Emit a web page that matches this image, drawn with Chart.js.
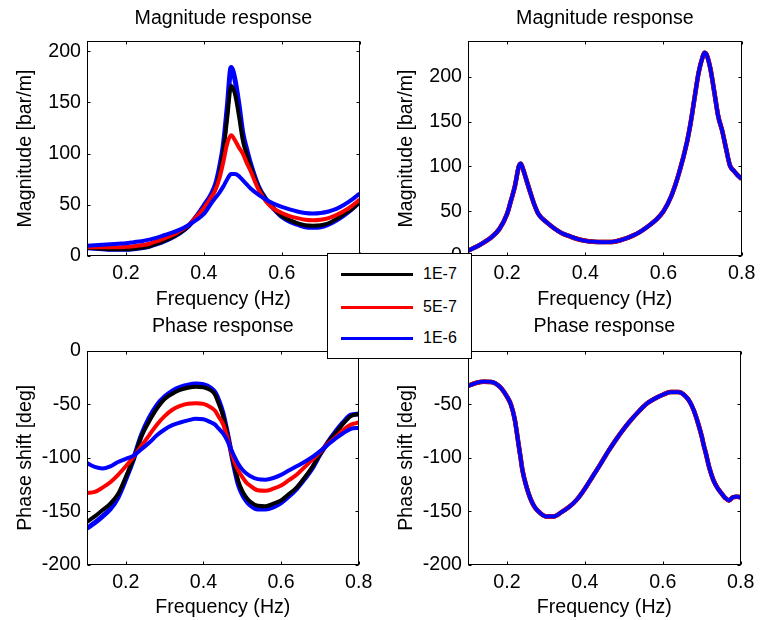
<!DOCTYPE html>
<html>
<head>
<meta charset="utf-8">
<script src="https://cdn.jsdelivr.net/npm/chart.js@4.4.1/dist/chart.umd.min.js"></script>
<style>
  html, body { margin: 0; padding: 0; background: #fff; }
  #page { position: relative; width: 763px; height: 620px; overflow: hidden; }
  .panel { position: absolute; }
  #legend {
    position: absolute; left: 327px; top: 253px; width: 145px; height: 106px;
    box-sizing: border-box; border: 1px solid #000; background: #fff;
    font: 16px "Liberation Sans", Arial, sans-serif; color: #000;
  }
  .leg-line { position: absolute; left: 13px; width: 72px; height: 3px; }
  .leg-text { position: absolute; left: 95px; line-height: 16px; }
</style>
</head>
<body>
<div id="page">
  <canvas id="magLeft" class="panel" width="381" height="310" style="left:0;top:0"></canvas>
  <canvas id="magRight" class="panel" width="382" height="310" style="left:381px;top:0"></canvas>
  <canvas id="phLeft" class="panel" width="381" height="310" style="left:0;top:310px"></canvas>
  <canvas id="phRight" class="panel" width="382" height="310" style="left:381px;top:310px"></canvas>
  <div id="legend"></div>
</div>
<script>
// ---- data ----
const SERIES_NAMES = ['1E-7', '5E-7', '1E-6'];
const SERIES_COLORS = ['#000000', '#ff0000', '#0000ff'];

const X_TICKS = [0.2, 0.4, 0.6, 0.8];
const MAG_LEFT_TICKS = [0, 50, 100, 150, 200];
const MAG_RIGHT_TICKS = [0, 50, 100, 150, 200];
const PH_LEFT_TICKS = [-200, -150, -100, -50, 0];
const PH_RIGHT_TICKS = [-200, -150, -100, -50];

// left column frequencies (Hz)
const FREQ_LEFT = [0.10, 0.12, 0.14, 0.16, 0.18, 0.20, 0.22, 0.24, 0.26, 0.28, 0.30, 0.32, 0.34, 0.36, 0.38,
  0.40, 0.42, 0.43, 0.44, 0.45, 0.46, 0.47, 0.48, 0.49, 0.50, 0.51, 0.52, 0.54, 0.56, 0.58,
  0.60, 0.62, 0.64, 0.66, 0.68, 0.70, 0.72, 0.74, 0.76, 0.78, 0.80];

const magRef = [8, 7.5, 7, 6.5, 6.5, 6.5, 7, 8, 9.5, 12, 15, 18.5, 23, 29, 38,
  49, 61, 70, 86, 108, 145, 184, 172, 148, 120, 104, 90, 68, 55, 46,
  38.5, 34, 31, 28.5, 28, 28.5, 31, 35, 40, 46, 53];
const mag1E7 = [8, 7.5, 7, 6.5, 6.5, 6.5, 7, 8, 9.5, 12, 15, 18.5, 23, 29, 38,
  47, 58, 66, 80, 102, 135, 166, 158, 137, 113, 99, 87, 67, 55, 46,
  39, 35, 32, 30, 29.5, 30, 32, 36, 41, 46, 53];
const mag5E7 = [8.5, 8.5, 8.5, 8.5, 8.5, 9, 9.5, 10.5, 12, 14.5, 17.5, 20.5, 25, 30, 38,
  47, 58, 65, 76, 92, 110, 118, 113, 106, 100, 91, 83, 65, 53, 46,
  42, 39, 37, 35.5, 35, 35.5, 37, 40, 44, 49, 55];
const mag1E6 = [10, 10.5, 11, 11.5, 12, 12.5, 13.5, 14.5, 16, 18, 20.5, 23, 26, 30, 35,
  41, 52, 57, 62, 68, 75, 80, 80, 78, 74, 70, 66, 60, 55, 51,
  48, 45.5, 43.5, 42, 41.5, 42, 43.5, 46, 50, 55, 61];

const phRef = [-166, -161, -155, -148, -137, -120, -101, -79, -63, -51, -43, -37.5, -34, -32, -31,
  -31.5, -35, -39, -47, -58, -74, -92, -110, -125, -134, -140, -144, -148, -148, -146,
  -142, -136, -129, -120, -110, -97, -86, -76, -67, -60, -59];
const ph1E7 = [-160, -155, -149, -143, -134, -118, -101, -80, -66, -54, -45, -40, -36.5, -34.5, -33.5,
  -34, -37, -41, -50, -60, -75, -92, -108, -122, -131, -137, -141, -145, -145.5, -143,
  -140, -134, -128, -119, -109, -97, -86, -77, -68, -61, -59];
const ph5E7 = [-133, -132, -128, -123, -116, -108, -99, -89, -79, -69, -61, -55, -51.5, -49.5, -49,
  -49.5, -53, -56, -62, -68, -79, -92, -104, -112, -118, -123, -126, -130.5, -131, -129,
  -126, -121, -116, -109, -102, -95, -87, -81, -74, -69, -67];
const ph1E6 = [-105, -108.5, -110, -108, -104, -101, -98, -92, -86, -79, -73.5, -69.5, -67, -65, -63.5,
  -64, -67, -69, -73, -77, -83, -91, -99, -106, -111, -114.5, -117, -120, -120.5, -119,
  -116, -112, -108, -104, -99.5, -94, -88, -82, -77, -73, -72];

// right column frequencies (Hz); the three cases coincide there
const FREQ_RIGHT = [0.10, 0.12, 0.14, 0.16, 0.18, 0.20, 0.21, 0.22, 0.23, 0.235, 0.24, 0.25, 0.26, 0.27, 0.28,
  0.30, 0.32, 0.34, 0.36, 0.38, 0.40, 0.42, 0.44, 0.46, 0.48, 0.50, 0.52, 0.54, 0.56, 0.58,
  0.60, 0.62, 0.64, 0.66, 0.67, 0.68, 0.69, 0.70, 0.705, 0.71, 0.72, 0.73, 0.74, 0.75, 0.76,
  0.77, 0.78, 0.79, 0.80];
const magRight = [6, 10, 15, 21, 30, 47, 62, 78, 100, 103, 98, 84, 70, 57, 47,
  38, 31, 25.5, 22, 19, 17, 16, 15.5, 15.5, 16.5, 19, 22.5, 27, 33, 40,
  50, 67, 93, 127, 150, 178, 205, 222, 227, 225, 209, 183, 156, 140, 120,
  101, 95, 90, 86];
const phRight = [-32.7, -30, -28.7, -29, -33, -42.7, -50, -64, -88, -100, -112, -127, -138, -145.5, -150,
  -155, -155, -151, -146, -139, -129, -117.5, -106, -94, -83, -73, -64, -56, -49, -44.5,
  -41, -38.5, -38.5, -43, -48, -56, -67, -80, -88, -95, -110, -121, -128, -133, -137.5,
  -140, -137, -136.5, -137];

// ---- drawing ----
const FONT = { family: '"Liberation Sans", Arial, sans-serif', size: 19.6, lineHeight: 1 };

// MATLAB-like box with inward ticks on all four sides
const frameTicks = {
  id: 'frameTicks',
  afterDatasetsDraw(chart) {
    const { ctx, chartArea: a, scales } = chart;
    const L = Math.round(a.left) + 0.5, R = Math.round(a.right) - 0.5;
    const T = Math.round(a.top) + 0.5, B = Math.round(a.bottom) - 0.5;
    ctx.save();
    ctx.strokeStyle = '#000';
    ctx.lineWidth = 1;
    ctx.strokeRect(L, T, R - L, B - T);
    ctx.beginPath();
    scales.x.ticks.forEach(t => {
      const px = Math.round(scales.x.getPixelForValue(t.value)) + 0.5;
      ctx.moveTo(px, B); ctx.lineTo(px, B - 3);
      ctx.moveTo(px, T); ctx.lineTo(px, T + 3);
    });
    scales.y.ticks.forEach(t => {
      const py = Math.round(scales.y.getPixelForValue(t.value)) + 0.5;
      ctx.moveTo(L, py); ctx.lineTo(L + 3, py);
      ctx.moveTo(R, py); ctx.lineTo(R - 3, py);
    });
    ctx.stroke();
    ctx.restore();
  }
};

function makePanel(id, cfg) {
  const datasets = cfg.series.map(s => ({
    label: s.label,
    data: cfg.freq.map((f, i) => ({ x: f, y: s.values[i] })),
    borderColor: s.color,
    borderWidth: s.width,
    order: s.order,
    pointRadius: 0,
    fill: false,
    cubicInterpolationMode: 'monotone'
  }));

  return new Chart(document.getElementById(id), {
    type: 'line',
    data: { datasets },
    options: {
      responsive: false,
      animation: false,
      devicePixelRatio: 1,
      layout: { padding: { left: 0, right: cfg.padRight, top: 0, bottom: 0 } },
      plugins: {
        legend: { display: false },
        tooltip: { enabled: false },
        title: {
          display: true,
          text: cfg.title,
          fullSize: false,
          color: '#000',
          font: { ...FONT, weight: 'normal' },
          padding: { top: cfg.titleTop, bottom: 41 - FONT.size - cfg.titleTop }
        }
      },
      scales: {
        x: {
          type: 'linear',
          min: 0.1,
          max: 0.8,
          afterBuildTicks: s => { s.ticks = X_TICKS.map(value => ({ value })); },
          afterFit: s => { s.height = cfg.xAxisHeight; },
          grid: { display: false, drawTicks: false },
          border: { display: false },
          ticks: { color: '#000', font: FONT, padding: cfg.xTickPad, maxRotation: 0, autoSkip: false,
                   callback: v => String(v) },
          title: { display: true, text: 'Frequency (Hz)', color: '#000', font: FONT,
                   padding: { top: 0, bottom: cfg.xTitleBottom } }
        },
        y: {
          type: 'linear',
          min: cfg.yMin,
          max: cfg.yMax,
          afterBuildTicks: s => { s.ticks = cfg.yTicks.map(value => ({ value })); },
          afterFit: s => { s.width = 87; },
          grid: { display: false, drawTicks: false },
          border: { display: false },
          ticks: { color: '#000', font: FONT, padding: 6, autoSkip: false, callback: v => String(v) },
          title: { display: true, text: cfg.yTitle, color: '#000', font: FONT,
                   padding: { top: 15.5, bottom: 0 } }
        }
      }
    },
    plugins: [frameTicks]
  });
}

function leftSeries(ref, a, b, c) {
  return [
    { label: 'reference', values: ref, color: SERIES_COLORS[2], width: 5, order: 4 },
    { label: SERIES_NAMES[0], values: a, color: SERIES_COLORS[0], width: 4, order: 3 },
    { label: SERIES_NAMES[1], values: b, color: SERIES_COLORS[1], width: 4, order: 2 },
    { label: SERIES_NAMES[2], values: c, color: SERIES_COLORS[2], width: 4, order: 1 }
  ];
}

function rightSeries(values) {
  return [
    { label: SERIES_NAMES[0], values, color: SERIES_COLORS[0], width: 4.5, order: 3 },
    { label: SERIES_NAMES[1], values, color: SERIES_COLORS[1], width: 4.5, order: 2 },
    { label: SERIES_NAMES[2], values, color: SERIES_COLORS[2], width: 3.8, order: 1 }
  ];
}

const TOP_ROW = { padTitle: 8.6, xAxisHeight: 54, xTickPad: 7.7, xTitleBottom: 1.1 };
const BOTTOM_ROW = { padTitle: 6.3, xAxisHeight: 55.5, xTickPad: 8.7, xTitleBottom: 2.8 };

makePanel('magLeft', {
  freq: FREQ_LEFT, series: leftSeries(magRef, mag1E7, mag5E7, mag1E6),
  title: 'Magnitude response', yTitle: 'Magnitude [bar/m]', yMin: 0, yMax: 210, yTicks: MAG_LEFT_TICKS,
  padRight: 13, titleTop: TOP_ROW.padTitle, xAxisHeight: TOP_ROW.xAxisHeight,
  xTickPad: TOP_ROW.xTickPad, xTitleBottom: TOP_ROW.xTitleBottom
});
makePanel('magRight', {
  freq: FREQ_RIGHT, series: rightSeries(magRight),
  title: 'Magnitude response', yTitle: 'Magnitude [bar/m]', yMin: 0, yMax: 240, yTicks: MAG_RIGHT_TICKS,
  padRight: 14, titleTop: TOP_ROW.padTitle, xAxisHeight: TOP_ROW.xAxisHeight,
  xTickPad: TOP_ROW.xTickPad, xTitleBottom: TOP_ROW.xTitleBottom
});
makePanel('phLeft', {
  freq: FREQ_LEFT, series: leftSeries(phRef, ph1E7, ph5E7, ph1E6),
  title: 'Phase response', yTitle: 'Phase shift [deg]', yMin: -200, yMax: 0, yTicks: PH_LEFT_TICKS,
  padRight: 13, titleTop: BOTTOM_ROW.padTitle, xAxisHeight: BOTTOM_ROW.xAxisHeight,
  xTickPad: BOTTOM_ROW.xTickPad, xTitleBottom: BOTTOM_ROW.xTitleBottom
});
makePanel('phRight', {
  freq: FREQ_RIGHT, series: rightSeries(phRight),
  title: 'Phase response', yTitle: 'Phase shift [deg]', yMin: -200, yMax: 0, yTicks: PH_RIGHT_TICKS,
  padRight: 14, titleTop: BOTTOM_ROW.padTitle, xAxisHeight: BOTTOM_ROW.xAxisHeight,
  xTickPad: BOTTOM_ROW.xTickPad, xTitleBottom: BOTTOM_ROW.xTitleBottom
});

// shared legend floating between the panels
const legendEl = document.getElementById('legend');
const LEGEND_ROW_Y = [19, 52, 83];
SERIES_NAMES.forEach((name, i) => {
  const line = document.createElement('div');
  line.className = 'leg-line';
  line.style.top = LEGEND_ROW_Y[i] + 'px';
  line.style.background = SERIES_COLORS[i];
  const text = document.createElement('div');
  text.className = 'leg-text';
  text.style.top = (LEGEND_ROW_Y[i] - 7) + 'px';
  text.textContent = name;
  legendEl.appendChild(line);
  legendEl.appendChild(text);
});
</script>
</body>
</html>
